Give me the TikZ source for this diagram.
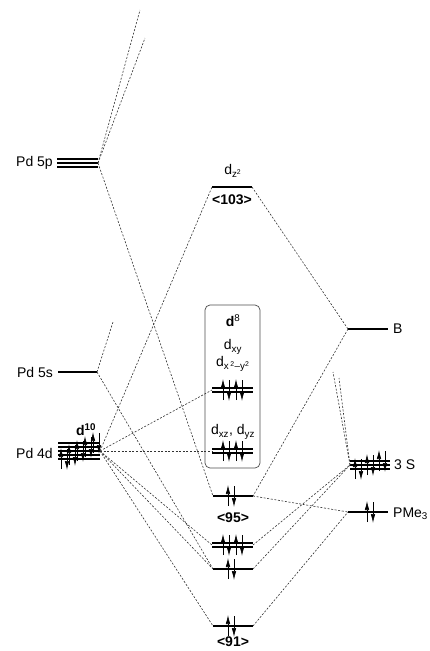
\documentclass[tikz,border=0pt]{standalone}
\usepackage{fontspec}
\setmainfont{Liberation Sans}
\usetikzlibrary{arrows.meta}

% one pair of paired electrons centred at x, on the level at y
\newcommand{\epair}[2]{%
  \draw[el] ({#1-3},{#2+10}) -- ({#1-3},{#2-11});
  \draw[el] ({#1+3},{#2-10}) -- ({#1+3},{#2+11});}

\begin{document}
\begin{tikzpicture}[x=1pt, y=-1pt, font=\fontsize{14}{16}\selectfont,
	lvl/.style={line width=1.6pt},
	corr/.style={dash pattern=on 2pt off 1.6pt, line width=0.6pt, black!80},
	el/.style={line width=0.6pt, -{Latex[length=9pt,width=4.5pt]}},
	lab/.style={inner sep=1pt},
	blab/.style={inner sep=1pt, font=\fontsize{14}{16}\selectfont\bfseries}]
	\useasboundingbox (0,0) rectangle (430,651);
	% Pd fragment
	\foreach \y in {159,163,167} {\draw[lvl, line width=1.3pt] (57,\y) -- (98,\y);}
	\coordinate (p5pR) at (98,163);
	\node[lab, anchor=east] (lab5p) at (54,163) {Pd 5p};
	\draw[lvl] (58,372) -- (97,372);
	\coordinate (p5sR) at (97,372);
	\node[lab, anchor=east] (lab5s) at (54,372) {Pd 5s};
	\foreach \y in {443,447,451,455,459} {\draw[lvl, line width=1.3pt] (58,\y) -- (100,\y);}
	\coordinate (p4dR) at (100,451);
	\node[lab, anchor=east] (lab4d) at (54,453) {Pd 4d};
	\node[blab] (d10) at (86,430) {d\textsuperscript{10}};
	\foreach \k in {0,...,4} {\epair{64+8*\k}{459-4*\k}}
	% complex
	\node[draw, rounded corners=5pt, line width=0.7pt, black!70, minimum width=55pt, minimum height=163pt] (dbox) at (232.5,386.5) {};
	\node[blab] (d8) at (233,321) {d\textsuperscript{\mdseries 8}};
	\node[lab] (dxy) at (233,347) {d\textsubscript{xy}};
	\node[lab] (dx2y2) at (233,364) {d\textsubscript{x\,\textsuperscript{2}–y\textsuperscript{2}}};
	\foreach \y in {388,392} {\draw[lvl, line width=1.3pt] (212,\y) -- (253,\y);}
	\epair{226}{390} \epair{239}{390}
	\coordinate (dxyL) at (212,390);
	\node[lab] (dxz) at (233,432) {d\textsubscript{xz}, d\textsubscript{yz}};
	\foreach \y in {449,453} {\draw[lvl, line width=1.3pt] (212,\y) -- (253,\y);}
	\epair{226}{451} \epair{239}{451}
	\coordinate (dxzL) at (212,451);
	\draw[lvl] (212,187) -- (252,187);
	\coordinate (dz2L) at (212,187); \coordinate (dz2R) at (252,187);
	\node[lab] (dz2) at (233,171) {d\textsubscript{z\textsuperscript{2}}};
	\node[blab] (o103) at (232,200) {<103>};
	\draw[lvl] (213,496) -- (253,496);
	\epair{231}{496}
	\coordinate (o95L) at (213,496); \coordinate (o95R) at (253,496);
	\node[blab] (o95) at (233,518) {<95>};
	\foreach \y in {543,547} {\draw[lvl, line width=1.3pt] (212,\y) -- (253,\y);}
	\epair{226}{545} \epair{239}{545}
	\coordinate (dblL) at (212,545); \coordinate (dblR) at (253,545);
	\draw[lvl] (213,569) -- (253,569);
	\epair{231}{569}
	\coordinate (o3L) at (213,569); \coordinate (o3R) at (253,569);
	\draw[lvl] (213,626) -- (253,626);
	\epair{231}{626}
	\coordinate (o91L) at (213,626); \coordinate (o91R) at (253,626);
	\node[blab] (o91) at (233,642) {<91>};
	% ligands
	\draw[lvl] (348,329) -- (388,329);
	\coordinate (BL) at (348,329);
	\node[lab, anchor=west] (labB) at (392,329) {B};
	\foreach \y in {461,465,469} {\draw[lvl, line width=1.3pt] (350,\y) -- (390,\y);}
	\foreach \k in {0,1,2} {\epair{358+12*\k}{469-4*\k}}
	\coordinate (SL) at (350,465);
	\node[lab, anchor=west] (labS) at (393,465) {3 S};
	\draw[lvl] (348,512) -- (388,512);
	\epair{370}{512}
	\coordinate (PL) at (348,512);
	\node[lab, anchor=west] (labP) at (392,514) {PMe\textsubscript{3}};
	% free ends towards levels not shown
	\coordinate (up1) at (140,10);
	\coordinate (up2) at (145,38);
	\coordinate (up3) at (113,322);
	\coordinate (up4) at (333,372);
	\coordinate (up5) at (339,378);
	% correlation lines
	\draw[corr] (p5pR) -- (up1);
	\draw[corr] (p5pR) -- (up2);
	\draw[corr] (p5pR) -- (o95L);
	\draw[corr] (p5sR) -- (up3);
	\draw[corr] (p5sR) -- (o3L);
	\foreach \t in {dz2L,dxyL,dxzL,dblL,o3L,o91L} {\draw[corr] (p4dR) -- (\t);}
	\draw[corr] (dz2R) -- (BL);
	\draw[corr] (BL) -- (o95R);
	\draw[corr] (o95R) -- (PL);
	\draw[corr] (dblR) -- (SL);
	\draw[corr] (o3R) -- (SL);
	\draw[corr] (o91R) -- (PL);
	\draw[corr] (SL) -- (up4);
	\draw[corr] (SL) -- (up5);
\end{tikzpicture}
\end{document}
